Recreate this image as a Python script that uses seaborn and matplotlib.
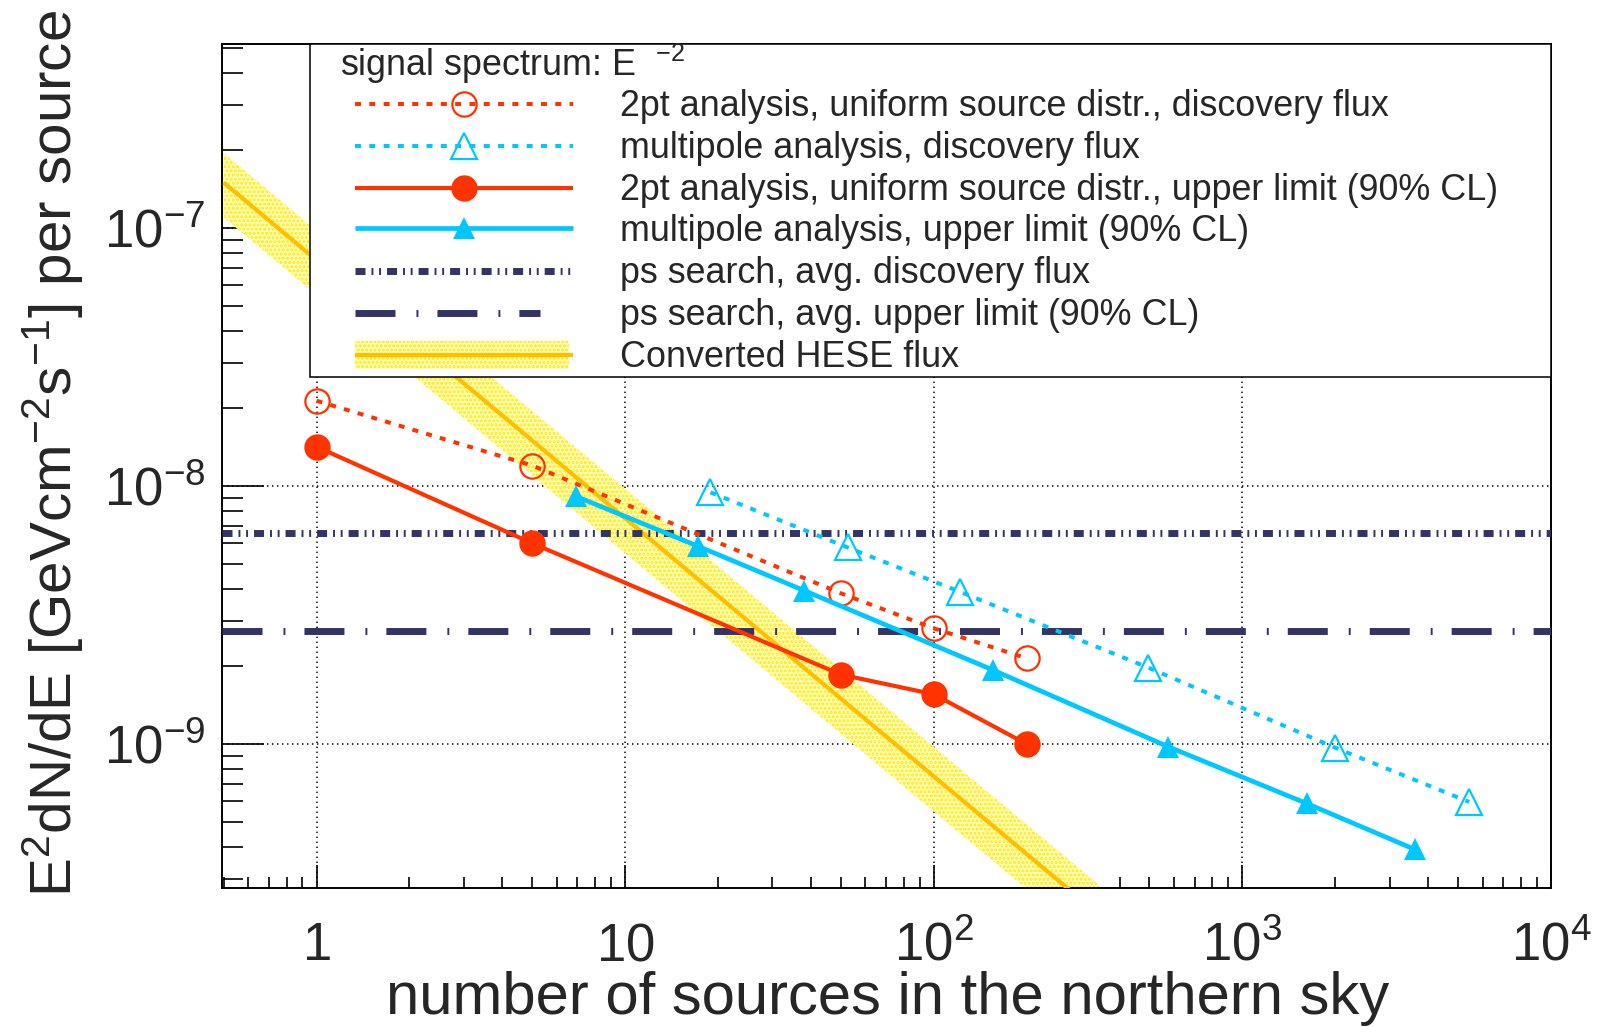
import numpy as np
import matplotlib
matplotlib.use("Agg")
import matplotlib.pyplot as plt
import seaborn as sns
from matplotlib.ticker import LogLocator, NullFormatter
from matplotlib.patches import Rectangle
from matplotlib.lines import Line2D

# ---------------------------------------------------------------- data
# 2pt analysis (uniform source distribution)
twopt_n = [1, 5, 50, 100, 200]
twopt_disc = [2.14e-8, 1.20e-8, 3.84e-9, 2.81e-9, 2.15e-9]
twopt_ul = [1.42e-8, 6.0e-9, 1.86e-9, 1.56e-9, 1.0e-9]

# multipole analysis
mp_disc_n = [18.9, 52.6, 121.7, 495, 1992, 5430]
mp_disc = [9.45e-9, 5.78e-9, 3.89e-9, 1.98e-9, 9.7e-10, 5.97e-10]
mp_ul_n = [6.93, 17.2, 38.1, 155, 576, 1615, 3615]
mp_ul = [9.12e-9, 5.85e-9, 3.93e-9, 1.94e-9, 9.76e-10, 5.89e-10, 3.91e-10]

# point-source search, averaged over the sky
ps_disc = 6.59e-9
ps_ul = 2.74e-9

# converted HESE flux per source (power law in N) with its uncertainty band
hese_n = [0.5, 400]
hese_flux = [1.5e-7, 1.875e-10]
hese_lo = [1.1e-7, 1.37e-10]
hese_hi = [1.95e-7, 2.44e-10]

x_ticks = [1, 10, 100, 1000, 10000]
x_ticklabels = [r"$1$", r"$10$", r"$10^{2}$", r"$10^{3}$", r"$10^{4}$"]
y_ticks = [1e-9, 1e-8, 1e-7]
y_ticklabels = [r"$10^{-9}$", r"$10^{-8}$", r"$10^{-7}$"]

legend_title = "signal spectrum: E  $^{-2}$"
legend_labels = [
    "2pt analysis, uniform source distr., discovery flux",
    "multipole analysis, discovery flux",
    "2pt analysis, uniform source distr., upper limit (90% CL)",
    "multipole analysis, upper limit (90% CL)",
    "ps search, avg. discovery flux",
    "ps search, avg. upper limit (90% CL)",
    "Converted HESE flux",
]

# ---------------------------------------------------------------- style
RED = "#ff3300"
CYAN = "#00c8ff"
NAVY = "#333366"
ORANGE = "#ffbf00"
BAND_FACE = "#fffcc4"
BAND_DOTS = "#ffec00"

sns.set_theme(style="white")
plt.rcParams["font.family"] = ["Liberation Sans", "DejaVu Sans"]
plt.rcParams["mathtext.fontset"] = "custom"
plt.rcParams["mathtext.rm"] = "Liberation Sans"
plt.rcParams["mathtext.it"] = "Liberation Sans:italic"
plt.rcParams["mathtext.bf"] = "Liberation Sans:bold"
plt.rcParams["lines.scale_dashes"] = False
plt.rcParams["hatch.linewidth"] = 1.5
plt.rcParams["lines.solid_capstyle"] = "butt"

DOTTED = (0, (4.3, 6.0))
PS_DISC_DASH = [7.2, 4.3, 1.4, 4.1, 1.4, 4.3]
PS_UL_DASH = [28.8, 15.1, 1.4, 13.7]
LEG_FS = 25.8

W, H = 1605, 1027
fig = plt.figure(figsize=(W / 100, H / 100), dpi=100)
fig.patch.set_facecolor("white")
ax = fig.add_axes([222 / W, 1 - 888 / H, 1329 / W, 844 / H])
ax.set_facecolor("white")

ax.set_xscale("log")
ax.set_yscale("log")
ax.set_xlim(0.494, 1e4)
ax.set_ylim(2.77e-10, 5.16e-7)

# HESE band and central line
ax.fill_between(hese_n, hese_lo, hese_hi, facecolor=BAND_FACE, edgecolor=BAND_DOTS,
                hatch="....", linewidth=0, zorder=2)
sns.lineplot(x=hese_n, y=hese_flux, ax=ax, color=ORANGE, linewidth=3.0, zorder=3)

# point-source search references
ax.axhline(ps_disc, color=NAVY, linewidth=5.0, dashes=PS_DISC_DASH, zorder=4)
ax.axhline(ps_ul, color=NAVY, linewidth=5.0, dashes=PS_UL_DASH, zorder=4)

# analysis curves
sns.lineplot(x=twopt_n, y=twopt_disc, ax=ax, color=RED, linewidth=2.9, linestyle=DOTTED,
             marker="o", markersize=17.5, markerfacecolor="none",
             markeredgecolor=RED, markeredgewidth=1.6, zorder=6)
sns.lineplot(x=mp_disc_n, y=mp_disc, ax=ax, color=CYAN, linewidth=2.9, linestyle=DOTTED,
             marker="^", markersize=18.5, markerfacecolor="none",
             markeredgecolor=CYAN, markeredgewidth=1.6, zorder=6)
sns.lineplot(x=twopt_n, y=twopt_ul, ax=ax, color=RED, linewidth=3.0,
             marker="o", markersize=19, markeredgecolor=RED, markeredgewidth=0, zorder=7)
sns.lineplot(x=mp_ul_n, y=mp_ul, ax=ax, color=CYAN, linewidth=3.4,
             marker="^", markersize=16, markeredgecolor=CYAN, markeredgewidth=0, zorder=7)

# axes, ticks and grid
ax.grid(True, which="major", color="black", linestyle=(0, (1.0, 2.6)), linewidth=1.1)
ax.set_axisbelow(True)
for s in ax.spines.values():
    s.set_color("black")
    s.set_linewidth(1.4)

ax.set_xticks(x_ticks, x_ticklabels)
ax.set_yticks(y_ticks, y_ticklabels)
ax.xaxis.set_minor_locator(LogLocator(base=10, subs=np.arange(2, 10), numticks=100))
ax.yaxis.set_minor_locator(LogLocator(base=10, subs=np.arange(2, 10), numticks=100))
ax.xaxis.set_minor_formatter(NullFormatter())
ax.yaxis.set_minor_formatter(NullFormatter())
ax.set_xlim(0.494, 1e4)
ax.set_ylim(2.77e-10, 5.16e-7)

ax.tick_params(axis="both", which="both", direction="in", color="black",
               bottom=True, left=True, top=False, right=False, width=1.2)
ax.tick_params(axis="x", which="major", length=16.5, pad=52, labelsize=38)
ax.tick_params(axis="x", which="minor", length=8)
ax.tick_params(axis="y", which="major", length=30, pad=12, labelsize=38)
ax.tick_params(axis="y", which="minor", length=15)
for lbl in ax.get_xticklabels():
    lbl.set_verticalalignment("baseline")
ax.set_xlabel("")
ax.set_ylabel("")

fig.text(887.5 / W, 1 - 1014 / H, "number of sources in the northern sky",
         ha="center", va="baseline", fontsize=43)
fig.text(53 / W, 1 - 453.5 / H, r"E$^{2}$dN/dE [GeVcm$^{-2}$s$^{-1}$] per source",
         ha="center", va="center", rotation=90, fontsize=42)

# legend box, drawn in axes-fraction coordinates
def fx(px):
    return (px - 222) / 1329


def fy(py):
    return (888 - py) / 844


T = ax.transAxes
ax.add_patch(Rectangle((fx(310), fy(377)), fx(1551) - fx(310), fy(44) - fy(377),
                       transform=T, facecolor="white", edgecolor="black",
                       linewidth=1.1, zorder=10, clip_on=False))
ax.text(fx(339.7), fy(76), legend_title, transform=T, fontsize=LEG_FS,
        ha="left", va="baseline", zorder=12)

rows = [104, 146, 188, 228.3, 270.5, 312.5, 354.5]
x0, x1, xm = fx(355), fx(573), fx(464)
samples = [
    dict(color=RED, linewidth=2.9, linestyle=DOTTED, marker="o", markersize=17.5,
         markerfacecolor="none", markeredgecolor=RED, markeredgewidth=1.6),
    dict(color=CYAN, linewidth=2.9, linestyle=DOTTED, marker="^", markersize=18.5,
         markerfacecolor="none", markeredgecolor=CYAN, markeredgewidth=1.6),
    dict(color=RED, linewidth=3.0, marker="o", markersize=19,
         markerfacecolor=RED, markeredgecolor=RED, markeredgewidth=0),
    dict(color=CYAN, linewidth=3.4, marker="^", markersize=16,
         markerfacecolor=CYAN, markeredgecolor=CYAN, markeredgewidth=0),
    dict(color=NAVY, linewidth=5.0, dashes=PS_DISC_DASH),
    dict(color=NAVY, linewidth=5.0, dashes=PS_UL_DASH),
    dict(color=ORANGE, linewidth=3.0),
]
for i, (ry, kw, label) in enumerate(zip(rows, samples, legend_labels)):
    y = fy(ry)
    if i == 6:
        ax.add_patch(Rectangle((x0, fy(ry + 14)), fx(569) - x0, fy(ry - 14) - fy(ry + 14),
                               transform=T, facecolor=BAND_FACE, edgecolor=BAND_DOTS,
                               hatch="....", linewidth=0, zorder=11, clip_on=False))
    mk = {k: kw.pop(k) for k in list(kw) if k.startswith("marker")}
    x_end = fx(540) if i == 5 else x1
    ax.add_line(Line2D([x0, x_end], [y, y], transform=T, zorder=12, clip_on=False, **kw))
    if mk:
        ax.add_line(Line2D([xm], [y], transform=T, linestyle="none", zorder=13,
                           clip_on=False, **mk))
    ax.text(fx(619.8), fy(ry + 12.4), label, transform=T, fontsize=LEG_FS,
            ha="left", va="baseline", zorder=12)

fig.savefig("out.png", dpi=100, facecolor="white")
